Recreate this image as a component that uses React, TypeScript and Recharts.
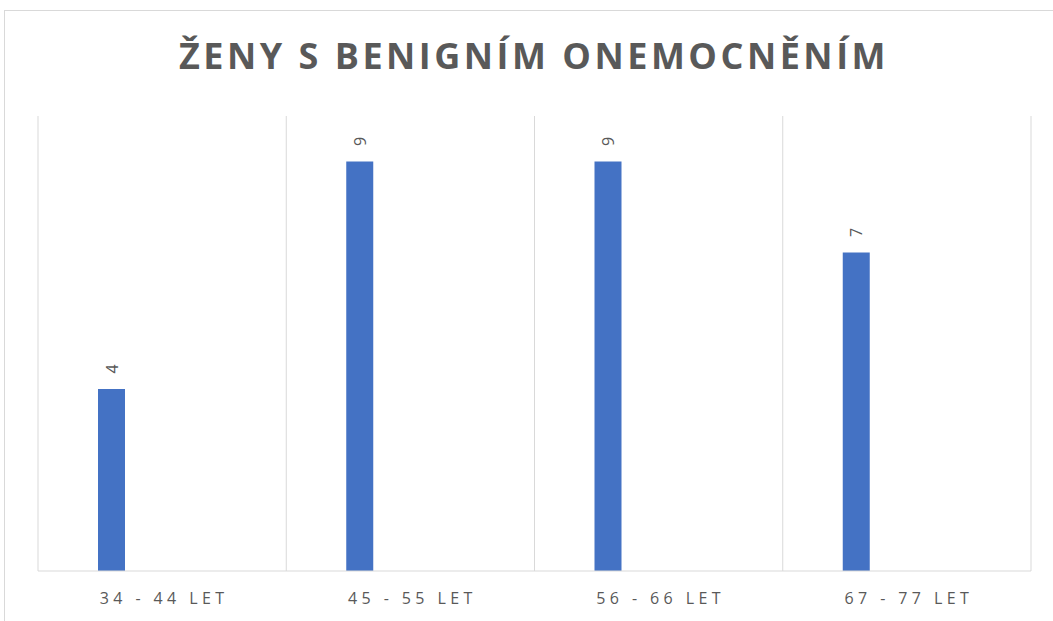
import React from 'react';
import { BarChart, Bar, XAxis, YAxis, CartesianGrid, LabelList } from 'recharts';

const categories = ['34 - 44 LET', '45 - 55 LET', '56 - 66 LET', '67 - 77 LET'];
const benign = [4, 9, 9, 7];
const other: (number | null)[] = [null, null, null, null];

const data = categories.map((name, i) => ({ name, benign: benign[i], other: other[i] }));

const FONT = '"Open Sans", "Liberation Sans", sans-serif';
const GRAY = '#595959';

const renderLabel = (props: any) => {
  const { x, y, width, value } = props;
  if (value == null) return null;
  const cx = x + width / 2;
  const cy = y - 20;
  return (
    <text
      x={cx}
      y={cy}
      fill={GRAY}
      fontSize={16}
      fontFamily={FONT}
      textAnchor="middle"
      dominantBaseline="central"
      transform={`rotate(-90, ${cx}, ${cy})`}
    >
      {value}
    </text>
  );
};

const renderTick = (props: any) => {
  const { x, y, payload } = props;
  return (
    <text
      x={x + 2}
      y={y + 25}
      fill={GRAY}
      fontSize={16}
      fontFamily={FONT}
      textAnchor="middle"
      letterSpacing={4.4}
    >
      {payload.value}
    </text>
  );
};

export default function App() {
  return (
    <div style={{ position: 'absolute', left: 0, top: 0, width: 1053, height: 621, overflow: 'hidden', background: '#fff' }}>
      {/* chart frame */}
      <div style={{ position: 'absolute', left: 4, top: 10, width: 1200, height: 800, borderLeft: '1px solid #d9d9d9', borderTop: '1px solid #d9d9d9' }} />
      <div
        style={{
          position: 'absolute', left: 0, top: 32, width: 1068, textAlign: 'center',
          fontFamily: FONT, fontWeight: 700, fontSize: 36, letterSpacing: 3.5, color: GRAY, lineHeight: '48px',
        }}
      >
        ŽENY S BENIGNÍM ONEMOCNĚNÍM
      </div>
      <div style={{ position: 'absolute', left: 0, top: 0 }}>
        <BarChart
          width={1053}
          height={621}
          data={data}
          margin={{ top: 116, right: 22, bottom: 10, left: 38 }}
          barSize={27}
          barGap={74}
          barCategoryGap={0}
        >
          <CartesianGrid
            horizontal={false}
            stroke="#d9d9d9"
            verticalCoordinatesGenerator={({ offset }: any) =>
              categories.map((_, i) => offset.left + (i * offset.width) / categories.length).concat(offset.left + offset.width)
            }
          />
          <XAxis
            dataKey="name"
            height={40}
            axisLine={{ stroke: '#d9d9d9' }}
            tickLine={false}
            tick={renderTick}
            interval={0}
          />
          <YAxis hide domain={[0, 10]} />
          <Bar dataKey="benign" fill="#4472C4" isAnimationActive={false}>
            <LabelList dataKey="benign" content={renderLabel} />
          </Bar>
          <Bar dataKey="other" fill="#ED7D31" isAnimationActive={false} />
        </BarChart>
      </div>
    </div>
  );
}
